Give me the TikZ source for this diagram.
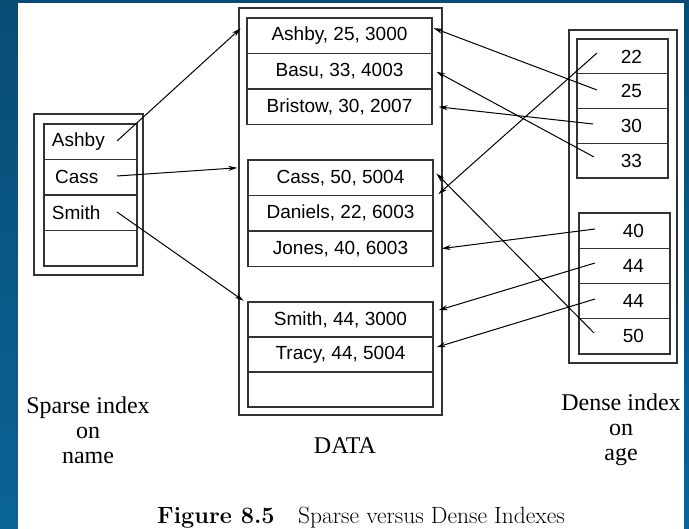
\documentclass[tikz,border=0pt]{standalone}
\usepackage{fontspec}
\newfontfamily\cellfont{Liberation Sans}
\newfontfamily\labelfont{Liberation Serif}
\usepackage{tikz}
\usetikzlibrary{arrows.meta}

\definecolor{slidetop}{RGB}{8,76,116}
\definecolor{slidebottom}{RGB}{10,100,150}

\begin{document}
\begin{tikzpicture}[x=1pt, y=-1pt]
    \tikzstyle{frame_style} = [rectangle, draw=black!80, line width=1.3pt, inner sep=0pt]
    \tikzstyle{cell_style} = [rectangle, draw=black!80, line width=1.3pt, inner ysep=0pt, font=\cellfont\fontsize{19}{22}\selectfont]
    \tikzstyle{sparse_style} = [cell_style, minimum width=93pt, minimum height=35.5pt, text width=77pt, inner xsep=8pt, align=left]
    \tikzstyle{data_style} = [cell_style, minimum width=185pt, minimum height=35.5pt]
    \tikzstyle{data_low_style} = [cell_style, minimum width=185pt, minimum height=35pt]
    \tikzstyle{dense_style} = [cell_style, minimum width=91pt, minimum height=34.75pt, text width=39pt, inner xsep=26pt, align=right]
    \tikzstyle{dense_low_style} = [dense_style, minimum height=35.25pt]
    \tikzstyle{label_style} = [align=center, font=\labelfont\fontsize{24}{25}\selectfont]
    \tikzstyle{edge_style} = [draw=black, line width=1pt, shorten >=1pt, -{Stealth[length=9pt, width=5pt]}]

    \useasboundingbox (0,0) rectangle (689,529);
    \shade[top color=slidetop, bottom color=slidebottom] (0,0) rectangle (689,529);
    \fill[white] (18,3) rectangle (684,529);

    \node[frame_style, minimum width=109pt, minimum height=161pt] (sparse) at (88.5,194.5) {};
    \node[frame_style, minimum width=203pt, minimum height=407pt] (data) at (340.5,211.5) {};
    \node[frame_style, minimum width=108pt, minimum height=333pt] (dense) at (623,196.5) {};

    \node[sparse_style] (n1) at (90.5,141.75) {Ashby};
    \node[sparse_style] (n2) at (90.5,177.25) {\,Cass};
    \node[sparse_style] (n3) at (90.5,212.75) {Smith};
    \node[sparse_style] (n4) at (90.5,248.25) {};

    \node[data_style] (d1) at (339.5,35.75) {Ashby, 25, 3000};
    \node[data_style] (d2) at (339.5,71.25) {Basu, 33, 4003};
    \node[data_style] (d3) at (339.5,106.75) {Bristow, 30, 2007};
    \node[data_style] (d4) at (340.5,177.75) {Cass, 50, 5004};
    \node[data_style] (d5) at (340.5,213.25) {Daniels, 22, 6003};
    \node[data_style] (d6) at (340.5,248.75) {Jones, 40, 6003};
    \node[data_low_style] (d7) at (340.5,319.5) {Smith, 44, 3000};
    \node[data_low_style] (d8) at (340.5,354.5) {Tracy, 44, 5004};
    \node[data_low_style] (d9) at (340.5,389.5) {};

    \node[dense_style] (a1) at (622.5,56.4) {22};
    \node[dense_style] (a2) at (622.5,91.1) {25};
    \node[dense_style] (a3) at (622.5,125.9) {30};
    \node[dense_style] (a4) at (622.5,160.6) {33};
    \node[dense_low_style] (a5) at (624.5,230.6) {40};
    \node[dense_low_style] (a6) at (624.5,265.9) {44};
    \node[dense_low_style] (a7) at (624.5,301.1) {44};
    \node[dense_low_style] (a8) at (624.5,336.4) {50};

    \node[label_style] (sparse_label) at (88,430) {Sparse index\\on\\name};
    \node[label_style] (data_label) at (345,446) {DATA};
    \node[label_style] (dense_label) at (621,430) {Dense index\\on\\age};
    \node[anchor=base, inner sep=0pt, font=\fontsize{23.5}{27}\selectfont] (caption) at (361,524) {\textbf{Figure 8.5}\quad Sparse versus Dense Indexes};

    \coordinate (s1) at (117,141);
    \coordinate (s2) at (117,176);
    \coordinate (s3) at (117,212);
    \coordinate (k22) at (597,53);
    \coordinate (k25) at (597,90);
    \coordinate (k30) at (593,124);
    \coordinate (k33) at (594,157);
    \coordinate (k40) at (595,229);
    \coordinate (k44) at (595,263);
    \coordinate (k44b) at (595,299);
    \coordinate (k50) at (594,333);

    \draw[edge_style] (s1) -- ([xshift=-5pt, yshift=8pt]d1.west);
    \draw[edge_style] (s2) -- ([xshift=-9pt, yshift=10pt]d4.west);
    \draw[edge_style] (s3) -- ([xshift=-3pt]d7.north west);
    \draw[edge_style] (k25) -- ([yshift=8pt]d1.east);
    \draw[edge_style] (k33) -- ([xshift=3pt]d2.east);
    \draw[edge_style] (k30) -- ([xshift=5pt]d3.east);
    \draw[edge_style] (k22) -- ([xshift=4pt]d5.north east);
    \draw[edge_style] (k50) -- ([xshift=2pt, yshift=5pt]d4.east);
    \draw[edge_style] (k40) -- ([xshift=7pt]d6.east);
    \draw[edge_style] (k44) -- ([xshift=4pt, yshift=9pt]d7.east);
    \draw[edge_style] (k44b) -- ([xshift=2pt, yshift=7pt]d8.east);
\end{tikzpicture}
\end{document}
